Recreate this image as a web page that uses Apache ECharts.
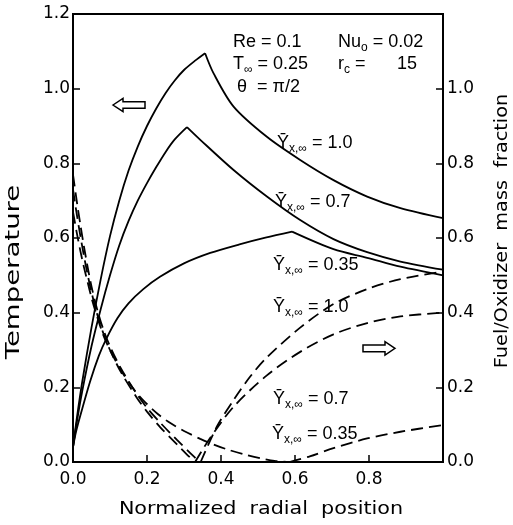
<!DOCTYPE html>
<html>
<head>
<meta charset="utf-8">
<script src="https://cdn.jsdelivr.net/npm/echarts@6/dist/echarts.min.js"></script>
<style>html,body{margin:0;padding:0;background:#fff}#c{width:513px;height:525px}</style>
</head>
<body>
<div id="c"></div>
<script>
// ---- tick labels ----
const xTickLabels = ['0.0','0.2','0.4','0.6','0.8',''];
const yLeftTickLabels = ['0.0','0.2','0.4','0.6','0.8','1.0','1.2'];
const yRightTickLabels = ['0.0','0.2','0.4','0.6','0.8','1.0',''];

// ---- temperature (left axis), [position, value] ----
const temp10Rise = [[0,0.04],[0.01,0.115],[0.025,0.215],[0.05,0.36],[0.075,0.49],[0.1,0.605],[0.125,0.70],[0.15,0.78],[0.175,0.845],[0.2,0.9],[0.225,0.947],[0.25,0.988],[0.275,1.022],[0.3,1.05],[0.33,1.075],[0.357,1.095]];
const temp10Fall = [[0.357,1.095],[0.38,1.041],[0.434,0.952],[0.524,0.871],[0.614,0.809],[0.704,0.755],[0.795,0.711],[0.885,0.68],[1.0,0.653]];
const temp07Rise = [[0,0.04],[0.01,0.105],[0.025,0.19],[0.05,0.31],[0.075,0.41],[0.1,0.50],[0.125,0.58],[0.15,0.645],[0.175,0.70],[0.2,0.747],[0.225,0.79],[0.25,0.83],[0.275,0.864],[0.308,0.897]];
const temp07Fall = [[0.308,0.897],[0.344,0.863],[0.434,0.782],[0.524,0.711],[0.614,0.648],[0.704,0.597],[0.795,0.562],[0.885,0.537],[1.0,0.515]];
const temp035Rise = [[0,0.04],[0.008,0.08],[0.02,0.125],[0.046,0.215],[0.07,0.285],[0.09,0.33],[0.12,0.385],[0.15,0.425],[0.19,0.463],[0.235,0.496],[0.3,0.532],[0.371,0.56],[0.45,0.583],[0.52,0.601],[0.592,0.617]];
const temp035Fall = [[0.592,0.617],[0.704,0.57],[0.795,0.547],[0.885,0.523],[1.0,0.50]];

// ---- fuel / oxidizer mass fraction (right axis) ----
const fuel10 = [[0,0.77],[0.01,0.70],[0.02,0.635],[0.03,0.575],[0.04,0.52],[0.05,0.47],[0.065,0.41],[0.082,0.355],[0.1,0.31],[0.13,0.25],[0.172,0.183],[0.2,0.145],[0.236,0.105],[0.281,0.059],[0.317,0.024],[0.342,0]];
const fuel07 = [[0,0.73],[0.01,0.665],[0.02,0.605],[0.03,0.55],[0.04,0.50],[0.05,0.455],[0.065,0.397],[0.082,0.345],[0.1,0.30],[0.13,0.24],[0.172,0.173],[0.2,0.135],[0.236,0.093],[0.281,0.047],[0.31,0.018],[0.33,0]];
const fuel035 = [[0,0.67],[0.01,0.615],[0.02,0.565],[0.03,0.52],[0.04,0.48],[0.05,0.44],[0.065,0.39],[0.082,0.34],[0.1,0.30],[0.13,0.245],[0.16,0.2],[0.19,0.165],[0.23,0.128],[0.262,0.105],[0.3,0.083],[0.344,0.062],[0.38,0.047],[0.416,0.034],[0.46,0.021],[0.506,0.01],[0.545,0.003],[0.585,0]];
const ox10 = [[0.345,0],[0.389,0.095],[0.434,0.166],[0.479,0.229],[0.524,0.28],[0.614,0.36],[0.704,0.423],[0.795,0.463],[0.885,0.49],[1.0,0.51]];
const ox07 = [[0.33,0],[0.371,0.065],[0.434,0.148],[0.524,0.232],[0.614,0.295],[0.704,0.342],[0.795,0.372],[0.885,0.39],[1.0,0.40]];
const ox035 = [[0.585,0],[0.64,0.015],[0.704,0.037],[0.795,0.063],[0.885,0.081],[1.0,0.099]];

const BLACK = '#000';
const TICKFONT = 'DejaVu Sans';
const ANNFONT = 'Liberation Sans';

function solid(data){
  return {type:'line', data, xAxisIndex:0, yAxisIndex:0, symbol:'none', smooth:0.3,
    lineStyle:{color:BLACK, width:1.8}, silent:true, animation:false};
}
function dashed(data){
  return {type:'line', data, xAxisIndex:0, yAxisIndex:1, symbol:'none', smooth:0.3,
    lineStyle:{color:BLACK, width:1.8, type:[12,6]}, silent:true, animation:false};
}

const rich = {
  y:{fontSize:18, fontFamily:ANNFONT, color:BLACK, lineHeight:24},
  s:{fontSize:12, fontFamily:ANNFONT, color:BLACK, verticalAlign:'bottom', lineHeight:12},
  b:{fontSize:18, fontFamily:ANNFONT, color:BLACK, lineHeight:24}
};
function curveLabel(x, y, val){
  return {type:'text', x, y, silent:true,
    style:{text:'{y|Ȳ}{s|x,∞}{b| = '+val+'}', rich, textVerticalAlign:'middle', textAlign:'left'}};
}
function param(x, y, main, sub, rest){
  return {type:'text', x, y, silent:true,
    style:{text:'{b|'+main+'}'+(sub?'{s|'+sub+'}':'')+'{b|'+rest+'}', rich, textVerticalAlign:'middle', textAlign:'left'}};
}
function arrow(points){
  return {type:'polygon', shape:{points}, silent:true, style:{fill:'#fff', stroke:BLACK, lineWidth:1.5}};
}

const chart = echarts.init(document.getElementById('c'), null, {renderer:'canvas'});
chart.setOption({
  animation:false,
  backgroundColor:'#fff',
  grid:{left:73, right:70, top:14, bottom:63, show:true, borderColor:BLACK, borderWidth:2, backgroundColor:'transparent'},
  xAxis:{type:'value', min:0, max:1, interval:0.2,
    axisLine:{lineStyle:{color:BLACK, width:2}},
    axisTick:{inside:true, length:7, lineStyle:{color:BLACK, width:1.5}},
    axisLabel:{color:BLACK, fontSize:17, fontFamily:TICKFONT, margin:9,
      formatter:v=>xTickLabels[Math.round(v/0.2)]},
    splitLine:{show:false}},
  yAxis:[
    {type:'value', min:0, max:1.2, interval:0.2, position:'left',
      axisLine:{show:true, lineStyle:{color:BLACK, width:2}},
      axisTick:{show:true, inside:true, length:7, lineStyle:{color:BLACK, width:1.5}},
      axisLabel:{color:BLACK, fontSize:17, fontFamily:TICKFONT, margin:3,
        formatter:v=>yLeftTickLabels[Math.round(v/0.2)]},
      splitLine:{show:false}},
    {type:'value', min:0, max:1.2, interval:0.2, position:'right',
      axisLine:{show:true, lineStyle:{color:BLACK, width:2}},
      axisTick:{show:true, inside:true, length:7, lineStyle:{color:BLACK, width:1.5}},
      axisLabel:{color:BLACK, fontSize:17, fontFamily:TICKFONT, margin:4,
        formatter:v=>yRightTickLabels[Math.round(v/0.2)]},
      splitLine:{show:false}}
  ],
  series:[
    solid(temp10Rise), solid(temp10Fall),
    solid(temp07Rise), solid(temp07Fall),
    solid(temp035Rise), solid(temp035Fall),
    dashed(fuel10), dashed(fuel07), dashed(fuel035),
    dashed(ox10), dashed(ox07), dashed(ox035)
  ],
  graphic:[
    {type:'text', x:14, y:272, rotation:Math.PI/2, scaleX:1.45, silent:true,
      style:{text:'Temperature', font:'19px DejaVu Sans', fill:BLACK, textAlign:'center', textVerticalAlign:'middle'}},
    {type:'text', x:502, y:231, rotation:Math.PI/2, scaleX:1.07, silent:true,
      style:{text:'Fuel/Oxidizer  mass  fraction', font:'18px DejaVu Sans', fill:BLACK, textAlign:'center', textVerticalAlign:'middle'}},
    {type:'text', x:261, y:509, scaleX:1.15, silent:true,
      style:{text:'Normalized  radial  position', font:'18px DejaVu Sans', fill:BLACK, textAlign:'center', textVerticalAlign:'middle'}},
    param(233, 42, 'Re = 0.1', '', ''),
    param(338, 42, 'Nu', 'o', ' = 0.02'),
    param(233, 64, 'T', '∞', ' = 0.25'),
    param(338, 64, 'r', 'c', ' ='),
    param(397, 64, '15', '', ''),
    param(237, 87, 'θ  = π/2', '', ''),
    curveLabel(277, 143, '1.0'),
    curveLabel(275, 202, '0.7'),
    curveLabel(273, 265, '0.35'),
    curveLabel(273, 307, '1.0'),
    curveLabel(273, 399, '0.7'),
    curveLabel(272, 434, '0.35'),
    arrow([[113,105],[123,98.3],[123,101.7],[145,101.7],[145,108.3],[123,108.3],[123,111.7]]),
    arrow([[395,348.3],[385,341.7],[385,345],[363,345],[363,351.7],[385,351.7],[385,355]])
  ]
});
</script>
</body>
</html>
